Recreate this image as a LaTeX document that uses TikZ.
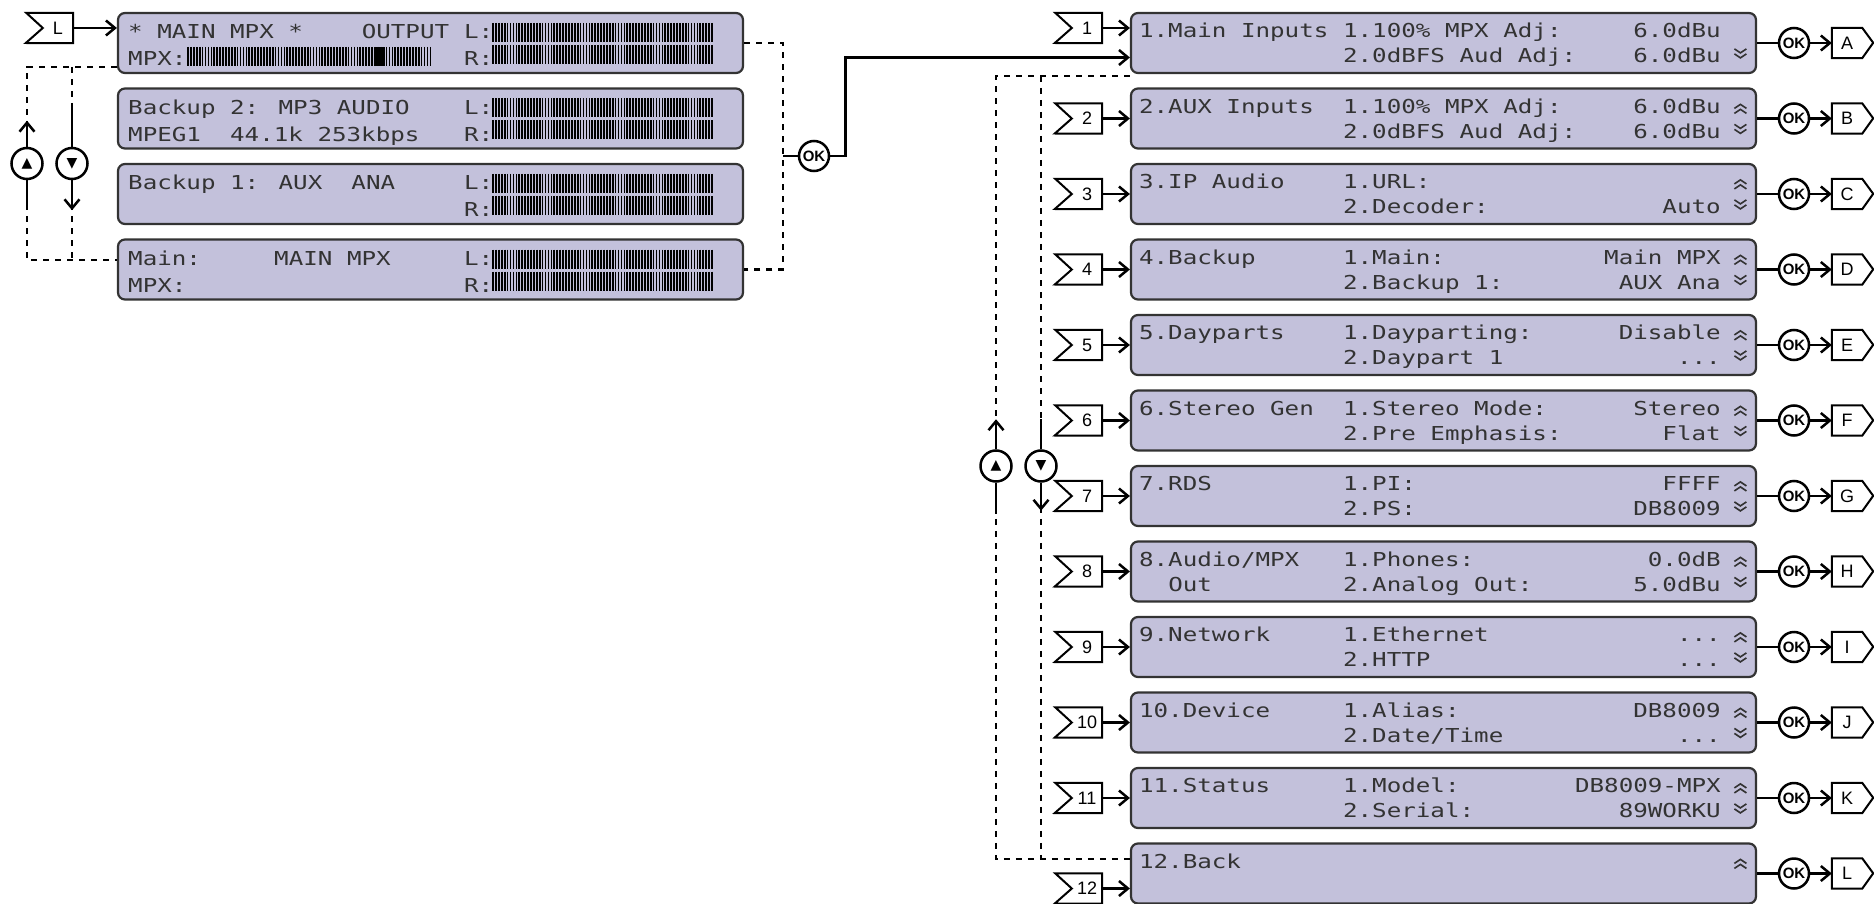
\documentclass[tikz,border=0pt]{standalone}
\usepackage{fontspec}
\setmainfont{Liberation Sans}
\newfontfamily\lcdfont[FakeStretch=1.26]{DejaVu Sans Mono}
\newfontfamily\symfont{DejaVu Sans}
\usetikzlibrary{arrows.meta,calc}

\definecolor{lcdfill}{HTML}{C3C1DB}
\definecolor{lcdink}{HTML}{333333}
\definecolor{lcdedge}{HTML}{333333}

\tikzset{
  lcdbox/.style={draw=lcdedge, fill=lcdfill, line width=2.2pt, rounded corners=7pt,
    minimum width=625pt, minimum height=60pt, inner sep=0pt},
  lcdtxt/.style={font=\lcdfont\fontsize{19.2}{20}\selectfont, text=lcdink,
    inner sep=0pt, anchor=base west},
  lcdval/.style={lcdtxt, anchor=base east},
  meterbar/.style={black, line width=1.7pt},
  conn/.style={line width=2.5pt},
  arr/.style={conn, -{Straight Barb[length=9pt,width=15pt]}},
  dashline/.style={line width=2.5pt, dash pattern=on 6pt off 6pt},
  okbtn/.style={circle, draw, fill=white, line width=2.5pt, minimum size=30pt,
    inner sep=0pt, font=\bfseries\fontsize{15}{15}\selectfont},
  navbtn/.style={circle, draw, fill=white, line width=2.5pt, minimum size=31pt,
    inner sep=0pt, font=\symfont\fontsize{14}{14}\selectfont},
  tagbody/.style={rectangle, minimum width=30pt, minimum height=30pt, inner sep=0pt,
    font=\fontsize{18}{18}\selectfont},
  tagline/.style={line width=2pt, line join=miter},
  chevup/.pic={\draw[lcdink, line width=1.6pt] (-6,2) -- (0,-2) -- (6,2) (-6,7) -- (0,3) -- (6,7);},
  chevdown/.pic={\draw[lcdink, line width=1.6pt] (-6,-7) -- (0,-3) -- (6,-7) (-6,-2) -- (0,2) -- (6,-2);}
}

% one menu screen: number, title, item 1, value 1, item 2, value 2
\newcommand{\menuitem}[6]{%
  \node[lcdtxt] (r#1t) at ($(r#1.north west)+(9,26)$) {#2};
  \node[lcdtxt] (r#1a) at ($(r#1.north west)+(213,26)$) {#3};
  \node[lcdval] (r#1av) at ($(r#1.north west)+(591,26)$) {#4};
  \node[lcdtxt] (r#1b) at ($(r#1.north west)+(213,51)$) {#5};
  \node[lcdval] (r#1bv) at ($(r#1.north west)+(591,51)$) {#6};}
% tag outlines round a tag body
\newcommand{\intag}[1]{\draw[tagline] (#1.north east) -- ++(-47,0) -- (#1.west)
  -- ++(-17,15) -- (#1.south east) -- cycle;}
\newcommand{\outtag}[1]{\draw[tagline] (#1.north west) -- (#1.north east) -- ++(11,15)
  -- (#1.south east) -- (#1.south west) -- cycle;}

\begin{document}
\begin{tikzpicture}[x=1pt, y=-1pt]
\useasboundingbox (0,0) rectangle (1874,904);

% Status screens
\node[lcdbox] (b1) at (430.5,43) {};
\node[lcdbox] (b2) at (430.5,118.5) {};
\node[lcdbox] (b3) at (430.5,194) {};
\node[lcdbox] (b4) at (430.5,269.5) {};

\node[lcdtxt] (b1a) at (128,39) {* MAIN MPX *};
\node[lcdtxt] (b1b) at (361.6,39) {OUTPUT};
\node[lcdtxt] (b1c) at (463.8,39) {L:};
\node[lcdtxt] (b1d) at (128,66) {MPX:};
\node[lcdtxt] (b1e) at (463.8,66) {R:};

\node[lcdtxt] (b2a) at (128,114.5) {Backup 2: MP3 AUDIO};
\node[lcdtxt] (b2c) at (463.8,114.5) {L:};
\node[lcdtxt] (b2d) at (128,141.5) {MPEG1~~44.1k 253kbps};
\node[lcdtxt] (b2e) at (463.8,141.5) {R:};

\node[lcdtxt] (b3a) at (128,190) {Backup 1: AUX~~ANA};
\node[lcdtxt] (b3c) at (463.8,190) {L:};
\node[lcdtxt] (b3e) at (463.8,217) {R:};

\node[lcdtxt] (b4a) at (128,265.5) {Main:};
\node[lcdtxt] (b4b) at (274,265.5) {MAIN MPX};
\node[lcdtxt] (b4c) at (463.8,265.5) {L:};
\node[lcdtxt] (b4d) at (128,292.5) {MPX:};
\node[lcdtxt] (b4e) at (463.8,292.5) {R:};

% Meters
\foreach \ytop in {23,45,98.5,120.5,174,196,249.5,271.5}
  \foreach \bx in {0,...,75}
    \draw[meterbar] (493+2.92*\bx,\ytop) -- ++(0,19);
\foreach \bx in {0,...,83}
  \draw[meterbar] (188+2.92*\bx,47) -- ++(0,19);
\fill (374,47) rectangle (385,66);

% Status navigation
\node[tagbody] (tagL) at (58,28) {L};
\intag{tagL}
\draw[arr] (tagL.east) -- (tagL.east -| b1.west);

\node[navbtn] (upL) at (27,163.5) {▲};
\node[navbtn] (dnL) at (72,163.5) {▼};
\coordinate (lTop) at (27,67);
\coordinate (lBot) at (27,260);
\draw[dashline] (b1.west |- lTop) -- (lTop) -- (upL.north);
\draw[dashline] (upL.south) -- (lBot) -- (b4.west |- lBot);
\draw[dashline] (dnL |- lTop) -- (dnL.north);
\draw[dashline] (dnL.south) -- (dnL |- lBot);
\draw[arr] (upL.north) -- ++(0,-26);
\draw[conn] (upL.south) -- ++(0,30);
\draw[conn] (dnL.north) -- ++(0,-38);
\draw[arr] (dnL.south) -- ++(0,30);

\node[okbtn] (ok0) at (814,156) {OK};
\coordinate (mTop) at (783,43);
\coordinate (mBot) at (783,269.5);
\draw[dashline] (b1.east) -- (mTop) -- (mBot) -- (b4.east);
\draw[conn] (mTop |- ok0) -- (ok0.west);

% Menu screens
\foreach \k/\o in {1/A,2/B,3/C,4/D,5/E,6/F,7/G,8/H,9/I,10/J,11/K,12/L} {
  \node[lcdbox] (r\k) at (1443.5,{43+75.5*(\k-1)}) {};
  \node[okbtn] (ok\k) at (1794,{43+75.5*(\k-1)}) {OK};
  \node[tagbody] (out\k) at (1847,{43+75.5*(\k-1)}) {\o};
  \outtag{out\k}
  \draw[conn] (r\k.east) -- (ok\k.west);
  \draw[arr] (ok\k.east) -- (out\k.west);
}
\draw[arr] (ok0.east) -- ++(15,0) |- ([yshift=-14.5pt]r1.west);

\menuitem{1}{1.Main Inputs}{1.100\% MPX Adj:}{6.0dBu}{2.0dBFS Aud Adj:}{6.0dBu}
\menuitem{2}{2.AUX Inputs}{1.100\% MPX Adj:}{6.0dBu}{2.0dBFS Aud Adj:}{6.0dBu}
\menuitem{3}{3.IP Audio}{1.URL:}{}{2.Decoder:}{Auto}
\menuitem{4}{4.Backup}{1.Main:}{Main MPX}{2.Backup 1:}{AUX Ana}
\menuitem{5}{5.Dayparts}{1.Dayparting:}{Disable}{2.Daypart 1}{...}
\menuitem{6}{6.Stereo Gen}{1.Stereo Mode:}{Stereo}{2.Pre Emphasis:}{Flat}
\menuitem{7}{7.RDS}{1.PI:}{FFFF}{2.PS:}{DB8009}
\menuitem{8}{8.Audio/MPX}{1.Phones:}{0.0dB}{2.Analog Out:}{5.0dBu}
\node[lcdtxt] (r8t2) at ($(r8.north west)+(38.2,51)$) {Out};
\menuitem{9}{9.Network}{1.Ethernet}{...}{2.HTTP}{...}
\menuitem{10}{10.Device}{1.Alias:}{DB8009}{2.Date/Time}{...}
\menuitem{11}{11.Status}{1.Model:}{DB8009-MPX}{2.Serial:}{89WORKU}
\node[lcdtxt] (r12t) at ($(r12.north west)+(9,26)$) {12.Back};

\foreach \k in {2,...,12}
  \pic at ($(r\k.north west)+(610.5,19)$) {chevup};
\foreach \k in {1,...,11}
  \pic at ($(r\k.north west)+(610.5,44)$) {chevdown};

% Menu entry tags
\node[tagbody] (t1) at (1087,28) {1};
\intag{t1}
\draw[arr] (t1.east) -- (t1.east -| r1.west);
\foreach \k in {2,...,11} {
  \node[tagbody] (t\k) at (1087,{43+75.5*(\k-1)}) {\k};
  \intag{t\k}
  \draw[arr] (t\k.east) -- (t\k.east -| r\k.west);
}
\node[tagbody] (t12) at (1087,888.5) {12};
\intag{t12}
\draw[arr] (t12.east) -- (t12.east -| r12.west);

% Menu navigation
\node[navbtn] (upR) at (996,466) {▲};
\node[navbtn] (dnR) at (1041,466) {▼};
\coordinate (nTop) at (996,76);
\coordinate (nBot) at (996,859);
\draw[dashline] (r1.west |- nTop) -- (nTop) -- (upR.north);
\draw[dashline] (upR.south) -- (nBot) -- ([yshift=14.5pt]r12.west);
\draw[dashline] (dnR |- nTop) -- (dnR.north);
\draw[dashline] (dnR.south) -- (dnR |- nBot);
\draw[arr] (upR.north) -- ++(0,-30);
\draw[conn] (upR.south) -- ++(0,31);
\draw[conn] (dnR.north) -- ++(0,-30);
\draw[arr] (dnR.south) -- ++(0,28);

\end{tikzpicture}
\end{document}
